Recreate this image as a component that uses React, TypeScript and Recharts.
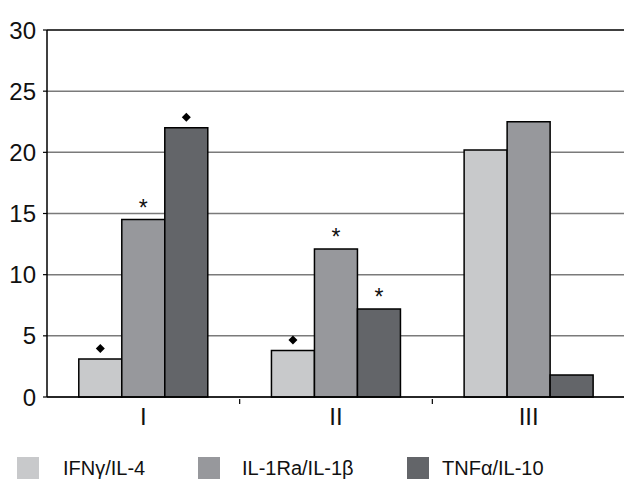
import { Bar, BarChart, CartesianGrid, LabelList, ReferenceLine, XAxis, YAxis } from "recharts";

const groups = ["I", "II", "III"];
const ifnIl4 = [3.1, 3.8, 20.2];
const il1raIl1b = [14.5, 12.1, 22.5];
const tnfIl10 = [22.0, 7.2, 1.8];
// significance marks shown above each bar ("d" = diamond, "s" = asterisk)
const ifnMarks = ["d", "d", ""];
const il1raMarks = ["s", "s", ""];
const tnfMarks = ["d", "s", ""];
const yTicks = [0, 5, 10, 15, 20, 25, 30];

const series = [
  { key: "ifn", name: "IFNγ/IL-4", color: "#c8c9cb", marks: ifnMarks },
  { key: "il1", name: "IL-1Ra/IL-1β", color: "#97989c", marks: il1raMarks },
  { key: "tnf", name: "TNFα/IL-10", color: "#636569", marks: tnfMarks },
];

const data = groups.map((g, i) => ({
  group: g,
  ifn: ifnIl4[i],
  il1: il1raIl1b[i],
  tnf: tnfIl10[i],
}));

const W = 624;
const H = 480;
const X_H = 30;
const Y_W = 40;
const MARGIN = { top: 30, right: -1, bottom: 83 - X_H, left: 7 };
const BAND = (W - MARGIN.left - MARGIN.right - Y_W) / groups.length;
const FONT = "'Liberation Sans', Arial, sans-serif";

function GroupTick({ x, y, payload }: any) {
  return (
    <g>
      <line x1={x + BAND / 2} x2={x + BAND / 2} y1={y} y2={y + 5} stroke="#000" strokeWidth={1.2} />
      <text x={x} y={y + 26} textAnchor="middle" fontSize={24} fontFamily={FONT} fill="#111">
        {payload.value}
      </text>
    </g>
  );
}

function makeMark(marks: string[]) {
  return function Mark(props: any) {
    const { x, y, width, index } = props;
    const m = marks[index];
    const cx = x + width / 2;
    if (m === "d") {
      const cy = y - 10.5;
      return <polygon points={`${cx},${cy - 4.5} ${cx + 4.5},${cy} ${cx},${cy + 4.5} ${cx - 4.5},${cy}`} fill="#000" />;
    }
    if (m === "s") {
      return (
        <text x={cx} y={y - 4} textAnchor="middle" fontSize={23} fontFamily={FONT} fill="#111">
          *
        </text>
      );
    }
    return null;
  };
}

const legendLeft = [17, 198, 407];
const legendGap = [24, 22, 13];

function LegendBox() {
  return (
    <div style={{ position: "absolute", left: 0, top: 457, width: W, height: 23, fontFamily: FONT, fontSize: 20, color: "#111" }}>
      {series.map((s, i) => (
        <div key={s.key} style={{ position: "absolute", left: legendLeft[i], top: 0, display: "flex", alignItems: "center" }}>
          <span style={{ width: 22, height: 22, background: s.color, display: "inline-block", marginRight: legendGap[i] }} />
          <span style={{ lineHeight: "22px" }}>{s.name}</span>
        </div>
      ))}
    </div>
  );
}

export default function App() {
  return (
    <div style={{ position: "absolute", left: 0, top: 0, width: W, height: H, background: "#fff", overflow: "hidden" }}>
      <BarChart width={W} height={H} data={data} margin={MARGIN} barCategoryGap="16.5%" barGap={0}>
        <CartesianGrid horizontal vertical={false} stroke="#7a7a7a" strokeWidth={1.5} />
        <ReferenceLine y={30} stroke="#222" strokeWidth={1.5} />
        <XAxis
          dataKey="group"
          height={X_H}
          axisLine={{ stroke: "#000", strokeWidth: 1.5 }}
          tickLine={false}
          tickSize={0}
          tick={<GroupTick />}
          interval={0}
        />
        <YAxis
          width={Y_W}
          domain={[0, 30]}
          ticks={yTicks}
          interval={0}
          axisLine={{ stroke: "#000", strokeWidth: 1.5 }}
          tickLine={{ stroke: "#000", strokeWidth: 1.2 }}
          tickSize={4}
          tickMargin={7}
          tick={{ fontSize: 24, fontFamily: FONT, fill: "#111" }}
        />
        {series.map((s) => (
          <Bar key={s.key} dataKey={s.key} name={s.name} fill={s.color} stroke="#000" strokeWidth={1.5} isAnimationActive={false}>
            <LabelList dataKey={s.key} content={makeMark(s.marks)} />
          </Bar>
        ))}
      </BarChart>
      <LegendBox />
    </div>
  );
}
